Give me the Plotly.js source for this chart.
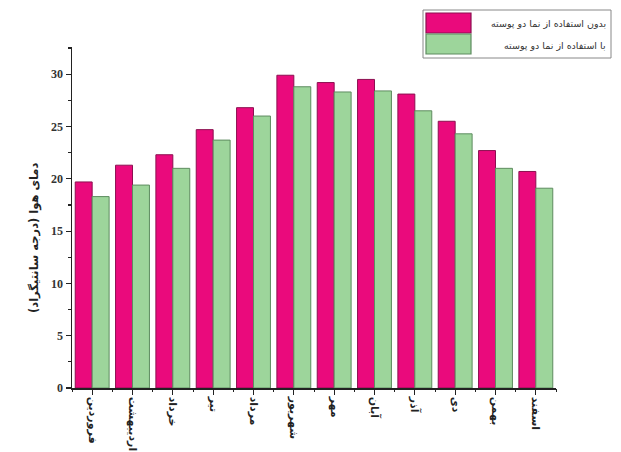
<!DOCTYPE html>
<html>
<head>
<meta charset="utf-8">
<script src="https://cdn.plot.ly/plotly-3.0.1.min.js"></script>
<style>html,body{margin:0;padding:0;background:#fff;}#chart{width:621px;height:452px;}</style>
</head>
<body>
<div id="chart"></div>
<script>
// ---- data ----
const months = ["فروردین","اردیبهشت","خرداد","تیر","مرداد","شهریور","مهر","آبان","آذر","دی","بهمن","اسفند"];
const withoutFacade = [19.7, 21.3, 22.3, 24.7, 26.8, 29.9, 29.2, 29.5, 28.1, 25.5, 22.7, 20.7];
const withFacade    = [18.3, 19.4, 21.0, 23.7, 26.0, 28.8, 28.3, 28.4, 26.5, 24.3, 21.0, 19.1];
const seriesNames = ["بدون استفاده از نما دو پوسته", "با استفاده از نما دو پوسته"];
const yTitle = "دمای هوا (درجه سانتیگراد)";

// ---- style ----
const magenta = "#EA0A7C", magentaEdge = "#8C1050";
const green = "#9DD59B", greenEdge = "#5E8C60";
const W = 621, H = 452;
const M = {l: 72, r: 65, t: 47, b: 64};
const pw = W - M.l - M.r, ph = H - M.t - M.b;
const px = x => (x - M.l) / pw;
const py = y => (H - M.b - y) / ph;

const traces = [
  {type: "bar", x: months, y: withoutFacade, name: seriesNames[0],
   marker: {color: magenta, line: {color: magentaEdge, width: 1}}},
  {type: "bar", x: months, y: withFacade, name: seriesNames[1],
   marker: {color: green, line: {color: greenEdge, width: 1}}},
  {type: "scatter", x: months, y: withFacade, xaxis: "x2", yaxis: "y",
   mode: "markers", marker: {opacity: 0}, hoverinfo: "skip", showlegend: false}
];

const shapes = [
  {type: "rect", xref: "paper", yref: "paper", x0: px(423), x1: px(611), y0: py(58), y1: py(10),
   line: {color: "#888", width: 1}, fillcolor: "rgba(0,0,0,0)"},
  {type: "rect", xref: "paper", yref: "paper", x0: px(426), x1: px(471), y0: py(33), y1: py(13),
   line: {color: magentaEdge, width: 1.2}, fillcolor: magenta},
  {type: "rect", xref: "paper", yref: "paper", x0: px(426), x1: px(471), y0: py(54), y1: py(34),
   line: {color: greenEdge, width: 1.2}, fillcolor: green}
];

const annotations = [
  {xref: "paper", yref: "paper", x: px(608), y: py(23), xanchor: "right", yanchor: "middle",
   text: seriesNames[0], showarrow: false, font: {family: "DejaVu Sans", size: 9.5, color: "#333"}},
  {xref: "paper", yref: "paper", x: px(608), y: py(45), xanchor: "right", yanchor: "middle",
   text: seriesNames[1], showarrow: false, font: {family: "DejaVu Sans", size: 9.5, color: "#333"}},
  {xref: "paper", yref: "paper", x: px(35), y: py(238), xanchor: "center", yanchor: "middle",
   textangle: -90, text: yTitle, showarrow: false,
   font: {family: "DejaVu Sans", size: 11.5, color: "#222", weight: "bold"}}
];

const layout = {
  width: W, height: H,
  margin: M,
  paper_bgcolor: "#fff", plot_bgcolor: "#fff",
  showlegend: false,
  barmode: "group", bargap: 0.16, bargroupgap: 0,
  xaxis: {
    type: "category", range: [-0.5, 11.5],
    showline: true, linecolor: "#222", linewidth: 1.5,
    ticks: "outside", ticklen: 5, tickwidth: 1.2, tickcolor: "#222",
    tickangle: 90, showgrid: false, zeroline: false,
    tickfont: {family: "DejaVu Sans", size: 11, color: "#222", weight: "bold"}
  },
  xaxis2: {
    type: "category", overlaying: "x", matches: "x", side: "bottom", anchor: "y",
    tickson: "boundaries", ticks: "outside", ticklen: 3, tickwidth: 1, tickcolor: "#222",
    showticklabels: false, showline: false, showgrid: false, zeroline: false
  },
  yaxis: {
    range: [0, 32.6], dtick: 5, tick0: 0,
    showline: true, linecolor: "#222", linewidth: 1.5,
    ticks: "outside", ticklen: 5, tickwidth: 1.2, tickcolor: "#222",
    minor: {dtick: 2.5, ticks: "outside", ticklen: 3, tickcolor: "#222", showgrid: false},
    showgrid: false, zeroline: false,
    tickfont: {family: "Liberation Serif", size: 12, color: "#333", weight: "bold"}
  },
  shapes: shapes,
  annotations: annotations
};

Plotly.newPlot("chart", traces, layout, {staticPlot: true, displayModeBar: false});
</script>
</body>
</html>
